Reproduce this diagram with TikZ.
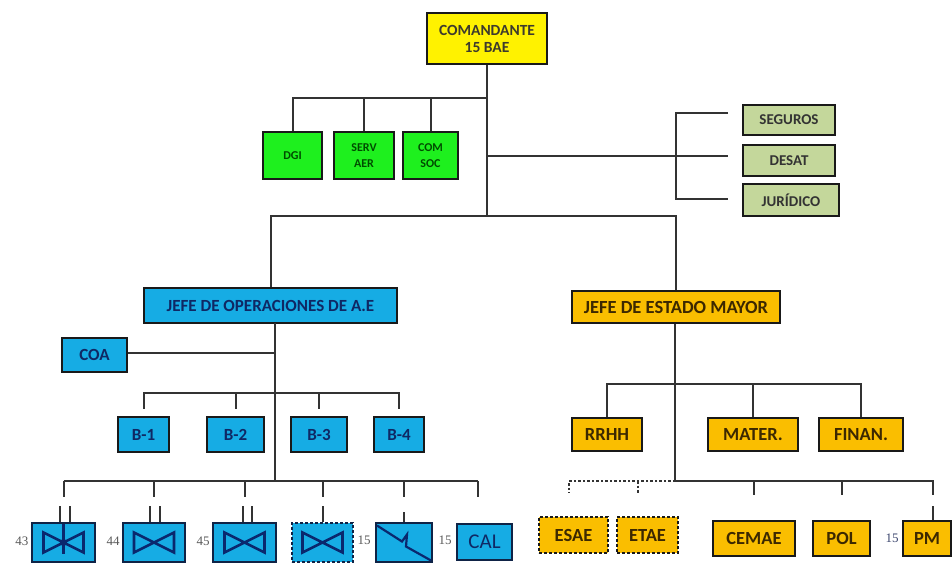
\documentclass[tikz,border=0pt]{standalone}
\usepackage{fontspec}
\setmainfont{Carlito}
\newfontfamily\numfont{Liberation Serif}
\definecolor{grnfill}{RGB}{30,240,30}
\definecolor{olvfill}{RGB}{196,215,155}
\definecolor{bluefill}{RGB}{22,172,228}
\definecolor{bluetext}{RGB}{15,40,100}
\definecolor{orgfill}{RGB}{250,190,0}
\definecolor{orgtext}{RGB}{60,40,0}
\definecolor{unitdraw}{RGB}{15,35,70}
\definecolor{icon}{RGB}{10,40,110}
\definecolor{pmnum}{RGB}{60,70,110}
\begin{document}
\begin{tikzpicture}[x=1pt,y=-1pt,
  conn/.style={draw=black!80, line width=2pt},
  dconn/.style={conn, dash pattern=on 2.5pt off 2pt},
  base/.style={draw=black!90, line width=2.6pt, inner sep=0pt, align=center, font=\bfseries},
  cmdbox/.style={base, fill=yellow, text=black!75!olive, font=\bfseries\fontsize{15.5}{17}\selectfont},
  grnbox/.style={base, fill=grnfill, text=black!70!green, font=\bfseries\fontsize{12}{16}\selectfont, minimum height=47pt},
  olvbox/.style={base, fill=olvfill, text=black!80, font=\bfseries\fontsize{15}{16}\selectfont},
  bluebox/.style={base, fill=bluefill, text=bluetext, font=\bfseries\fontsize{17}{19}\selectfont, minimum height=35pt},
  orgbox/.style={base, fill=orgfill, text=orgtext, font=\bfseries\fontsize{18.5}{20}\selectfont},
  unitbox/.style={base, draw=unitdraw, fill=bluefill, minimum height=39pt},
  iconline/.style={draw=icon, line width=2.6pt, line join=miter},
  numlab/.style={font=\numfont\fontsize{13}{14}\selectfont, text=black!65, inner sep=0pt},
  bowtie/.pic={\path[iconline] (-20,-10) -- (20,10) -- (20,-10) -- (-20,10) -- cycle;}
]
\useasboundingbox (0,0) rectangle (952,569);

% top level
\node[cmdbox, minimum width=120pt, minimum height=51pt] (cmd) at (487,38.5) {COMANDANTE\\15 BAE};
\node[grnbox, minimum width=59pt] (dgi) at (292.5,155.5) {DGI};
\node[grnbox, minimum width=60pt] (serv) at (364,155.5) {SERV\\AER};
\node[grnbox, minimum width=55pt] (com) at (430.5,155.5) {COM\\SOC};
\node[olvbox, minimum width=92pt, minimum height=30pt] (seg) at (789,120) {SEGUROS};
\node[olvbox, minimum width=92pt, minimum height=31pt] (desat) at (789,160.5) {DESAT};
\node[olvbox, minimum width=96pt, minimum height=32pt] (jur) at (791,200) {JURÍDICO};

\coordinate (t1) at (487,98);
\coordinate (t2) at (487,156);
\coordinate (t3) at (487,216);
\coordinate (s1) at (728,113);
\coordinate (s2) at (728,156);
\coordinate (s3) at (728,199);
\coordinate (bt) at (676,113);
\coordinate (bb) at (676,199);

\path[conn] (cmd.south) -- (t3);
\path[conn] (dgi.north) |- (t1);
\path[conn] (serv.north) -- (serv.north |- t1);
\path[conn] (com.north) -- (com.north |- t1);
\path[conn] (t2) -- (s2);
\path[conn] (s1) -- (bt) -- (bb) -- (s3);

% second level
\node[bluebox, minimum width=253pt] (ops) at (270.5,305.5) {JEFE DE OPERACIONES DE A.E};
\node[orgbox, minimum width=208pt, minimum height=32pt] (jem) at (676,307) {JEFE DE ESTADO MAYOR};
\path[conn] (ops.north) -- (ops.north |- t3) -- (jem.north |- t3) -- (jem.north);

% operations branch
\node[bluebox, minimum width=65pt, minimum height=34pt] (coa) at (94.5,355) {COA};
\node[bluebox, minimum width=51pt] (b1) at (143.5,434.5) {B-1};
\node[bluebox, minimum width=57pt] (b2) at (235.5,434.5) {B-2};
\node[bluebox, minimum width=56pt] (b3) at (319,434.5) {B-3};
\node[bluebox, minimum width=50pt] (b4) at (399,434.5) {B-4};

\coordinate (ot) at (275,323);
\coordinate (ob) at (275,481);
\coordinate (bbus) at (0,393);
\coordinate (ubus) at (0,481);
\path[conn] (ot) -- (ob);
\path[conn] (coa.east |- 0,353) -- (ot |- 0,353);
\path[conn] ([yshift=7pt]b1.north) -- (b1.north |- bbus) -- (b4.north |- bbus) -- ([yshift=7pt]b4.north);
\path[conn] ([yshift=7pt]b2.north) -- (b2.north |- bbus);
\path[conn] ([yshift=7pt]b3.north) -- (b3.north |- bbus);

% units
\node[unitbox, minimum width=63pt] (u1) at (63.5,542.5) {};
\node[unitbox, minimum width=62pt] (u2) at (154,542.5) {};
\node[unitbox, minimum width=63pt] (u3) at (244.5,542.5) {};
\node[unitbox, minimum width=61pt, dash pattern=on 3pt off 2pt] (u4) at (322.5,542.5) {};
\node[unitbox, minimum width=56pt] (u5) at (404,542.5) {};
\node[unitbox, minimum width=55pt, minimum height=36pt, font=\fontsize{21}{22}\selectfont, text=bluetext] (cal) at (484.5,542) {CAL};

\pic at (u1) {bowtie};
\pic at (u2) {bowtie};
\pic at (u3) {bowtie};
\pic at (u4) {bowtie};
\path[iconline, line width=2.2pt] ([yshift=19pt]u1.center) -- ([yshift=-11pt]u1.center);
\fill[icon] (u1.center) circle (3.5pt);
\path[iconline, line width=2.2pt] ([shift={(-27,-17)}]u5.center) -- ([shift={(-2,-1)}]u5.center) -- ([shift={(3,-8)}]u5.center) -- ([shift={(2,4)}]u5.center) -- ([shift={(27,18)}]u5.center);

\path[conn] (u1.north |- ubus) -- ([xshift=-6.5pt]cal.north |- ubus);
\foreach \u in {u1,u2,u3,u4,u5}{
  \path[conn] (\u.north |- ubus) -- ++(0,16);
}
\path[conn] ([xshift=-6.5pt]cal.north |- ubus) -- ++(0,16);
% echelon ticks
\foreach \u/\dx in {u1/-4,u1/6,u2/-4,u2/6,u3/-2,u3/7}{
  \path[conn] ([xshift=\dx pt]\u.north) -- ++(0,-16);
}
\path[conn] (u4.north) -- ++(0,-16);
\path[conn] (u5.north) -- ++(0,-10);

\node[numlab] (n43) at (22,541) {43};
\node[numlab] (n44) at (113,541) {44};
\node[numlab] (n45) at (203,541) {45};
\node[numlab] (n15a) at (364,540) {15};
\node[numlab] (n15b) at (445,540) {15};

% staff branch
\node[orgbox, minimum width=70pt, minimum height=33pt] (rrhh) at (607,434.5) {RRHH};
\node[orgbox, minimum width=90pt, minimum height=33pt] (mater) at (753,434.5) {MATER.};
\node[orgbox, minimum width=84pt, minimum height=33pt] (finan) at (861,434.5) {FINAN.};
\coordinate (jb) at (675,481);
\coordinate (rbus) at (0,384);
\path[conn] (jem.south -| jb) -- (jb);
\path[conn] (rrhh.north) -- (rrhh.north |- rbus) -- (finan.north |- rbus) -- (finan.north);
\path[conn] (mater.north) -- (mater.north |- rbus);

\node[orgbox, minimum width=69pt, minimum height=36pt, dash pattern=on 3pt off 2pt] (esae) at (573.5,535) {ESAE};
\node[orgbox, minimum width=61pt, minimum height=36pt, dash pattern=on 3pt off 2pt] (etae) at (647.5,535) {ETAE};
\node[orgbox, minimum width=82pt, minimum height=35pt] (cemae) at (754,538.5) {CEMAE};
\node[orgbox, minimum width=57pt, minimum height=35pt] (pol) at (841.5,538.5) {POL};
\node[orgbox, minimum width=48pt, minimum height=35pt] (pm) at (927,538.5) {PM};
\node[numlab, text=pmnum] (n15c) at (892,538) {15};

\path[dconn] (jb) -- ([xshift=-4.5pt]esae.north |- jb) -- ++(0,12);
\path[dconn] ([xshift=-9.5pt]etae.north |- jb) -- ++(0,12);
\path[conn] (jb) -- ([xshift=6pt]pm.north |- jb) -- ++(0,14);
\path[conn] (cemae.north |- jb) -- ++(0,14);
\path[conn] (pol.north |- jb) -- ++(0,14);
\path[conn] ([xshift=6pt]pm.north) -- ++(0,-14);
\end{tikzpicture}
\end{document}
